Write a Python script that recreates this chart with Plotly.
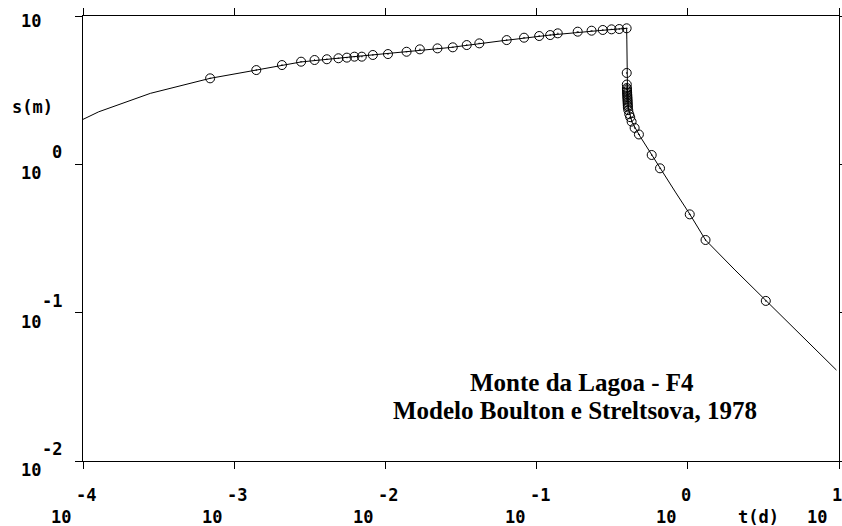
import numpy as np
import plotly.graph_objects as go

# observed drawdown (circles): time t (d), drawdown s (m)
obs_t = [6.93e-4, 1.40e-3, 2.07e-3, 2.77e-3, 3.40e-3, 4.10e-3, 4.89e-3, 5.56e-3,
         6.24e-3, 6.98e-3, 8.26e-3, 0.0104, 0.0138, 0.0169, 0.0221, 0.0279,
         0.0345, 0.0418, 0.0634, 0.0826, 0.104, 0.123, 0.138, 0.187, 0.231,
         0.274, 0.313, 0.352, 0.394,
         0.3945, 0.395,
         0.3955, 0.396, 0.3965, 0.397, 0.3975, 0.398, 0.3985, 0.399, 0.3995,
         0.400, 0.4005, 0.401, 0.4015,
         0.404, 0.410, 0.416, 0.425, 0.445, 0.475, 0.577, 0.655, 1.03, 1.31, 3.28]
obs_s = [3.80, 4.32, 4.67, 4.92, 5.05, 5.11, 5.19, 5.24,
         5.32, 5.32, 5.46, 5.54, 5.74, 5.96, 6.05, 6.15,
         6.37, 6.54, 6.88, 7.14, 7.33, 7.44, 7.64, 7.84, 7.96,
         8.05, 8.13, 8.17, 8.26,
         4.13, 3.45,
         3.27, 3.19, 3.11, 3.04, 2.97, 2.90, 2.83, 2.76, 2.69,
         2.62, 2.55, 2.48, 2.42,
         2.32, 2.18, 2.08, 1.94, 1.76, 1.59, 1.156, 0.940, 0.460, 0.309, 0.120]

# model curve (Boulton & Streltsova)
mod_t = [1.0e-4, 1.27e-4, 2.79e-4, 6.93e-4, 1.40e-3, 2.77e-3, 5.85e-3, 0.0125,
         0.0268, 0.0573, 0.123, 0.262, 0.394,
         0.3952, 0.3965, 0.399, 0.405, 0.427, 0.482, 0.577, 0.655, 0.828,
         1.03, 1.31, 2.05, 3.28, 5.50, 9.62]
mod_s = [2.01, 2.26, 3.01, 3.80, 4.32, 4.90, 5.29, 5.67,
         6.13, 6.78, 7.44, 7.98, 8.26,
         6.90, 4.60, 3.17, 2.40, 1.93, 1.55, 1.156, 0.940, 0.650,
         0.462, 0.309, 0.194, 0.121, 0.0718, 0.0410]

x_ticks = [1e-4, 1e-3, 1e-2, 1e-1, 1e0, 1e1]
x_exps = ["-4", "-3", "-2", "-1", "0", "1"]
y_ticks = [1e1, 1e0, 1e-1, 1e-2]
y_exps = ["", "0", "-1", "-2"]

title1 = "Monte da Lagoa - F4"
title2 = "Modelo Boulton e Streltsova, 1978"
x_label = "t(d)"
y_label = "s(m)"

mono = dict(family="DejaVu Sans Mono", size=17, color="black")
serif = dict(family="Liberation Serif, Times New Roman, serif", size=25, color="black")

fig = go.Figure()
fig.add_trace(go.Scatter(x=mod_t, y=mod_s, mode="lines",
                         line=dict(color="black", width=1), showlegend=False,
                         hoverinfo="skip"))
fig.add_trace(go.Scatter(x=obs_t, y=obs_s, mode="markers",
                         marker=dict(symbol="circle-open-dot", size=9, color="black",
                                     line=dict(width=1, color="black")),
                         showlegend=False))

ann = []
for v, e in zip(x_ticks, x_exps):
    lv = np.log10(v)
    ann.append(dict(x=lv, xref="x", y=0, yref="paper", text="<b>%s</b>" % e,
                    showarrow=False, font=mono, xanchor="left", yanchor="middle",
                    xshift=-9, yshift=-34))
    ann.append(dict(x=lv, xref="x", y=0, yref="paper", text="<b>10</b>",
                    showarrow=False, font=mono, xanchor="right", yanchor="middle",
                    xshift=-10, yshift=-56))
for v, e in zip(y_ticks, y_exps):
    lv = np.log10(v)
    if e:
        ann.append(dict(x=0, xref="paper", y=lv, yref="y", text="<b>%s</b>" % e,
                        showarrow=False, font=mono, xanchor="right", yanchor="middle",
                        xshift=-19, yshift=12))
    ann.append(dict(x=0, xref="paper", y=lv, yref="y", text="<b>10</b>",
                    showarrow=False, font=mono, xanchor="right", yanchor="middle",
                    xshift=-40, yshift=(-9 if e else -5)))

ann.append(dict(x=0, xref="paper", y=1, yref="paper", text="<b>%s</b>" % y_label,
                showarrow=False, font=mono, xanchor="center", yanchor="middle",
                xshift=-51, yshift=-91))
ann.append(dict(x=1, xref="paper", y=0, yref="paper", text="<b>%s</b>" % x_label,
                showarrow=False, font=mono, xanchor="center", yanchor="middle",
                xshift=-81, yshift=-56))
ann.append(dict(x=0.6607, xref="paper", y=0.1753, yref="paper", text="<b>%s</b>" % title1,
                showarrow=False, font=serif, xanchor="center", yanchor="middle"))
ann.append(dict(x=0.6508, xref="paper", y=0.1124, yref="paper", text="<b>%s</b>" % title2,
                showarrow=False, font=serif, xanchor="center", yanchor="middle"))

axis_common = dict(showgrid=False, zeroline=False, showline=True, linecolor="black",
                   linewidth=1, mirror="allticks", ticks="outside", ticklen=7,
                   tickcolor="black", tickwidth=1, showticklabels=False,
                   automargin=False)

fig.update_layout(
    width=842, height=526,
    margin=dict(l=83, r=3, t=16, b=65, autoexpand=False),
    paper_bgcolor="white", plot_bgcolor="white",
    xaxis=dict(type="log", range=[-4, 1], tickvals=x_ticks, **axis_common),
    yaxis=dict(type="log", range=[-2, 1], tickvals=y_ticks, **axis_common),
    annotations=ann,
    showlegend=False,
)

fig.write_html("out.html")
